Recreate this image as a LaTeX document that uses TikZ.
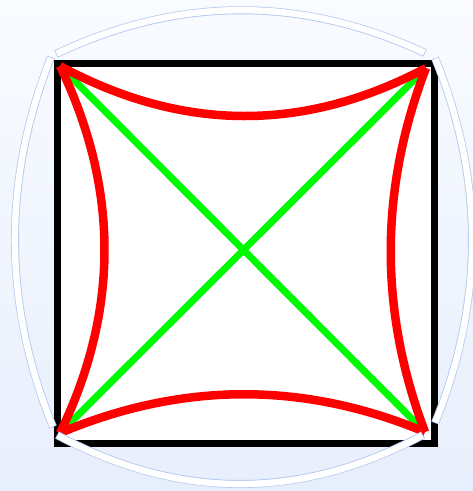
\documentclass[tikz,border=0pt]{standalone}
\usetikzlibrary{calc}
\definecolor{bgtop}{RGB}{249,251,255}
\definecolor{bgbot}{RGB}{232,239,252}
\definecolor{rimblue}{RGB}{180,200,240}
\definecolor{xgreen}{RGB}{0,250,0}

\begin{document}
\begin{tikzpicture}[x=1pt, y=-1pt,
    frame/.style={draw=black, line width=7pt, fill=white},
    diag/.style={draw=xgreen, line width=7pt},
    cusp/.style={draw=red, line width=8.5pt},
    rim/.style={draw=white, line width=6.4pt, shorten <=0.8pt, shorten >=0.8pt,
      preaction={draw=rimblue, line width=8pt, shorten <=0pt, shorten >=0pt}}]
  \fill[top color=bgtop, bottom color=bgbot] (0,0) rectangle (473,491);
  \useasboundingbox (0,0) rectangle (473,491);

  % corners of the figure
  \coordinate (tl) at (60,66);
  \coordinate (tr) at (426,68);
  \coordinate (br) at (425,432);
  \coordinate (bl) at (60,433);

  \draw[frame] (57,63.5) rectangle (434.5,443);

  \draw[diag] (tl) -- (br);
  \draw[diag] (tr) -- (bl);

  % quadratic curves through one control point each
  \coordinate (qt) at (243,165);
  \coordinate (qr) at (356,250);
  \coordinate (qb) at (243,356);
  \coordinate (ql) at (149,250);
  \draw[cusp] (tl) .. controls ($(tl)!2/3!(qt)$) and ($(tr)!2/3!(qt)$) .. (tr);
  \draw[cusp] (tr) .. controls ($(tr)!2/3!(qr)$) and ($(br)!2/3!(qr)$) .. (br);
  \draw[cusp] (br) .. controls ($(br)!2/3!(qb)$) and ($(bl)!2/3!(qb)$) .. (bl);
  \draw[cusp] (bl) .. controls ($(bl)!2/3!(ql)$) and ($(tl)!2/3!(ql)$) .. (tl);

  % outer rims
  \coordinate (t0) at (56,54);  \coordinate (t1) at (425,53);
  \coordinate (r0) at (435,58); \coordinate (r1) at (435,423);
  \coordinate (b0) at (423,435); \coordinate (b1) at (57,435);
  \coordinate (l0) at (53,427); \coordinate (l1) at (51,57);
  \coordinate (tc) at (240,-33);
  \coordinate (rc) at (509,240);
  \coordinate (bc) at (240,533);
  \coordinate (lc) at (-22,242);
  \draw[rim] (t0) .. controls ($(t0)!2/3!(tc)$) and ($(t1)!2/3!(tc)$) .. (t1);
  \draw[rim] (r0) .. controls ($(r0)!2/3!(rc)$) and ($(r1)!2/3!(rc)$) .. (r1);
  \draw[rim] (b0) .. controls ($(b0)!2/3!(bc)$) and ($(b1)!2/3!(bc)$) .. (b1);
  \draw[rim] (l0) .. controls ($(l0)!2/3!(lc)$) and ($(l1)!2/3!(lc)$) .. (l1);
\end{tikzpicture}
\end{document}
